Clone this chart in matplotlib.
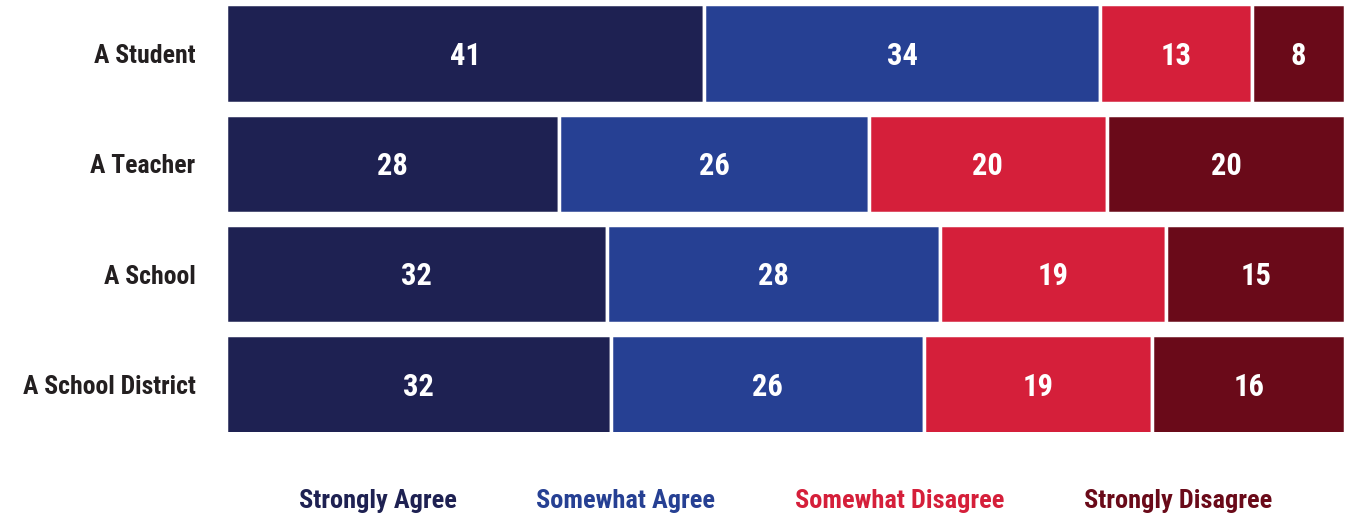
import numpy as np
import matplotlib
matplotlib.use("Agg")
import matplotlib.pyplot as plt
from matplotlib import font_manager

# pick a condensed bold face, falling back to DejaVu
names = {f.name for f in font_manager.fontManager.ttflist}
wanted = ["Roboto Condensed", "Archivo Narrow", "Liberation Sans Narrow", "Barlow Semi Condensed"]
cond = next((n for n in wanted if n in names), "DejaVu Sans")
plt.rcParams["font.family"] = [cond, "DejaVu Sans"]

groups = ["A Student", "A Teacher", "A School", "A School District"]
categories = ["Strongly Agree", "Somewhat Agree", "Somewhat Disagree", "Strongly Disagree"]
strongly_agree = [41, 28, 32, 32]
somewhat_agree = [34, 26, 28, 26]
somewhat_disagree = [13, 20, 19, 19]
strongly_disagree = [8, 20, 15, 16]
colors = ["#1e2152", "#264093", "#d51f3a", "#6a0a19"]

vals = np.array([strongly_agree, somewhat_agree, somewhat_disagree, strongly_disagree], dtype=float)
shares = vals / vals.sum(axis=0)  # each row fills the full width

fig = plt.figure(figsize=(13.5, 5.19), dpi=100)
ax = fig.add_axes([226 / 1350, 1 - 432 / 519, 1119 / 1350, 426 / 519])

y = np.arange(len(groups))
left = np.zeros(len(groups))
for i in range(len(categories)):
    ax.barh(y, shares[i], left=left, height=0.89, color=colors[i],
            edgecolor="white", linewidth=2.5)
    for j in range(len(groups)):
        ax.text(left[j] + shares[i][j] / 2, y[j] + 0.02, f"{int(vals[i][j])}",
                ha="center", va="center", color="white",
                fontsize=22, fontweight="bold")
    left += shares[i]

ax.set_xlim(0, 1)
ax.set_ylim(len(groups) - 0.57, -0.43)
ax.set_yticks(y)
ax.set_yticklabels(groups, fontsize=18.5, fontweight="bold", color="#231f20")
ax.tick_params(axis="y", length=0, pad=22)
ax.set_xticks([])
for s in ax.spines.values():
    s.set_visible(False)

# coloured category names along the bottom
legend_x = [378, 625, 900, 1178]
for lx, name, c in zip(legend_x, categories, colors):
    fig.text(lx / 1350, 1 - 501 / 519, name, ha="center", va="center",
             color=c, fontsize=19, fontweight="bold")

fig.savefig("out.png", dpi=100, facecolor="white")
